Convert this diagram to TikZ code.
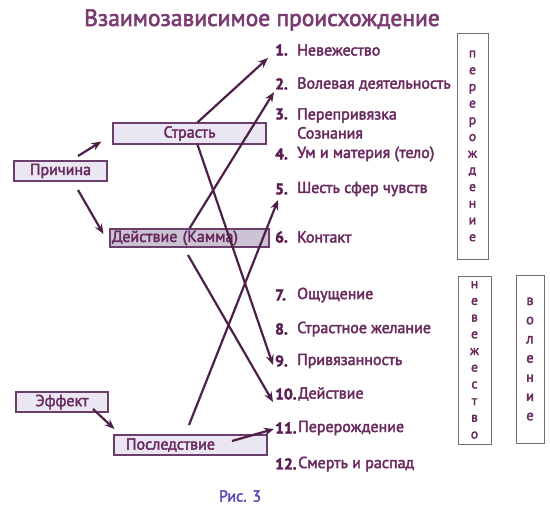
\documentclass[tikz,border=0pt]{standalone}
\usepackage{fontspec}
\setmainfont{PT Sans}[RawFeature={embolden=2.5}]
\usepackage{xcolor}
\usetikzlibrary{arrows.meta,positioning}

\definecolor{titlec}{HTML}{7B3B72}
\definecolor{labelc}{HTML}{6A2A5F}
\definecolor{numc}{HTML}{5A2053}
\definecolor{boxline}{HTML}{6B3E6B}
\definecolor{boxfill}{HTML}{EAE6F2}
\definecolor{boxdark}{HTML}{CBC2D4}
\definecolor{arrowc}{HTML}{4E2049}
\definecolor{vline}{HTML}{7A6A78}
\definecolor{figc}{HTML}{5B4DB8}

\begin{document}
\begin{tikzpicture}[x=1pt, y=-1pt,
    box/.style={rectangle, draw=boxline, fill=boxfill, line width=1.2pt, minimum height=20pt, inner sep=0pt, text=labelc, font=\fontsize{16}{19}\selectfont},
    num/.style={anchor=west, inner sep=0pt, text=numc, font=\bfseries\fontsize{15.5}{18}\selectfont},
    item/.style={anchor=west, inner sep=0pt, text=labelc, align=left, font=\fontsize{16}{19}\selectfont},
    vbox/.style={rectangle, draw=vline, line width=0.8pt, inner sep=0pt, align=center, text=labelc},
    arrow/.style={-{Stealth[length=10pt,width=8pt]}, line width=2.2pt, draw=arrowc}
]
    % background and page size
    \fill[white] (0,0) rectangle (550,519);

    \node [text=titlec, font=\fontsize{23.5}{26}\selectfont] (title) at (262,20) {Взаимозависимое происхождение};

    % left side
    \node [box, minimum width=93pt] (prichina) at (60.5,171) {Причина};
    \node [box, minimum width=153pt, minimum height=21pt] (strast) at (189.5,133.5) {Страсть};
    \node [box, fill=boxdark, minimum height=18pt, text width=155pt, inner xsep=2pt, align=left] (deistvie) at (189.5,238) {Действие (Камма)};
    \node [box, minimum width=92pt] (effekt) at (62,402) {Эффект};
    \node [box, text width=141pt, inner xsep=6pt, align=left] (posled) at (190.5,445) {\hspace{6pt}Последствие};

    \node [text=figc, font=\fontsize{16}{18}\selectfont] (fig) at (240,496) {Рис. 3};

    % twelve links
    \node [num] (n1) at (275,50) {1.};
    \node [item] (t1) at (297,50) {Невежество};
    \node [num] (n2) at (275,84) {2.};
    \node [item] (t2) at (297,84) {Волевая деятельность};
    \node [num] (n3) at (275,114) {3.};
    \node [item] (t3) at (297,123.5) {Перепривязка\\Сознания};
    \node [num] (n4) at (275,154) {4.};
    \node [item] (t4) at (297,154) {Ум и материя (тело)};
    \node [num] (n5) at (275,189) {5.};
    \node [item] (t5) at (297,189) {Шесть сфер чувств};
    \node [num] (n6) at (275,237) {6.};
    \node [item] (t6) at (297,237) {Контакт};
    \node [num] (n7) at (275,295) {7.};
    \node [item] (t7) at (297,295) {Ощущение};
    \node [num] (n8) at (275,329) {8.};
    \node [item] (t8) at (297,329) {Страстное желание};
    \node [num] (n9) at (275,361) {9.};
    \node [item] (t9) at (297,361) {Привязанность};
    \node [num] (n10) at (275,394) {10.};
    \node [item] (t10) at (298,394) {Действие};
    \node [num] (n11) at (275,428) {11.};
    \node [item] (t11) at (298,428) {Перерождение};
    \node [num] (n12) at (275,464) {12.};
    \node [item] (t12) at (298,464) {Смерть и распад};

    % vertical labels
    \node [vbox, minimum width=31pt, minimum height=226pt, font=\fontsize{13.5}{16.7}\selectfont] (pererozh) at (472.5,146) {п\\е\\р\\е\\р\\о\\ж\\д\\е\\н\\и\\е};
    \node [vbox, minimum width=33pt, minimum height=168pt, font=\fontsize{13.5}{16.7}\selectfont] (nevezh) at (474.5,360) {н\\е\\в\\е\\ж\\е\\с\\т\\в\\о};
    \node [vbox, minimum width=28pt, minimum height=168pt, font=\fontsize{14.5}{19.2}\selectfont] (volenie) at (530,359) {в\\о\\л\\е\\н\\и\\е};

    % free ends
    \coordinate (p1) at (78,156);
    \coordinate (p2) at (78,190);
    \coordinate (e1) at (93,409);
    \coordinate (d1) at (188,255);
    \coordinate (s1) at (189,425);
    \coordinate (s2) at (232,441);

    \draw [arrow] (p1) -- ([shift={(-11,8)}]strast.west);
    \draw [arrow] (p2) -- ([shift={(-6,-4)}]deistvie.west);
    \draw [arrow] (e1) -- ([shift={(1,-16)}]posled.west);

    \draw [arrow] ([xshift=8]strast.north) -- ([shift={(-7,8)}]n1.west);
    \draw [arrow] (deistvie.north) -- ([shift={(-1,8)}]n2.west);
    \draw [arrow] ([xshift=8]strast.south) -- ([shift={(-2,4)}]n9.west);
    \draw [arrow] (d1) -- ([shift={(-2,8)}]n10.west);
    \draw [arrow] (s1) -- ([shift={(3,11)}]n5.west);
    \draw [arrow] (s2) -- ([shift={(-1,1)}]n11.west);
\end{tikzpicture}
\end{document}
